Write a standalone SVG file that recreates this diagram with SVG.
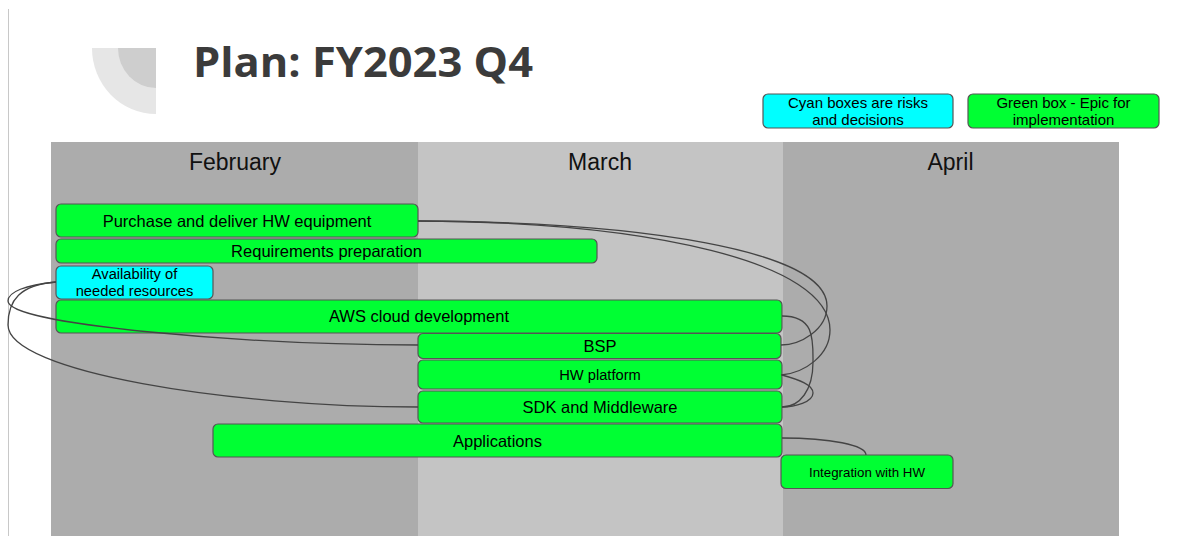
<svg xmlns="http://www.w3.org/2000/svg" width="1204" height="536" viewBox="0 0 1204 536">
  <style>
    .month { font-family: "Liberation Sans", Arial, sans-serif; font-size: 23px; fill: #111; text-anchor: middle; }
    .bar { stroke: #555; stroke-width: 1.2; }
    .epic { fill: #00ff33; }
    .risk { fill: #00ffff; }
    .lbl { font-family: "Liberation Sans", Arial, sans-serif; font-size: 16.5px; fill: #000; text-anchor: middle; }
    .sm { font-size: 14.7px; }
    .xs { font-size: 13.3px; }
    .leg { font-size: 15px; }
    .edge { fill: none; stroke: #444; stroke-width: 1.3; }
  </style>

  <rect width="1204" height="536" fill="#ffffff"/>
  <line x1="8.5" y1="9" x2="8.5" y2="536" stroke="#c8c8c8" stroke-width="1"/>

  <!-- header -->
  <g id="logo">
    <path d="M156,48 L92,48 A64,66 0 0 0 156,114 Z" fill="#e6e6e6"/>
    <path d="M156,48 L118,48 A38,40 0 0 0 156,88 Z" fill="#cecece"/>
  </g>
  <text id="title" x="193" y="77" font-family="'Open Sans', 'DejaVu Sans', sans-serif" font-weight="bold" font-size="41" fill="#3b3b3b" textLength="340" lengthAdjust="spacingAndGlyphs">Plan: FY2023 Q4</text>

  <!-- legend -->
  <g id="legend-risk">
    <rect class="bar risk" x="763" y="94" width="190" height="34" rx="5"/>
    <text class="lbl leg" x="858" y="108.3">Cyan boxes are risks</text>
    <text class="lbl leg" x="858" y="125">and decisions</text>
  </g>
  <g id="legend-epic">
    <rect class="bar epic" x="968" y="94" width="191" height="34" rx="5"/>
    <text class="lbl leg" x="1063.5" y="108.3">Green box - Epic for</text>
    <text class="lbl leg" x="1063.5" y="125">implementation</text>
  </g>

  <!-- month columns -->
  <g id="months">
    <rect x="51" y="142" width="367" height="394" fill="#acacac"/>
    <rect x="418" y="142" width="365" height="394" fill="#c4c4c4"/>
    <rect x="783" y="142" width="336" height="394" fill="#acacac"/>
    <text class="month" x="235" y="170">February</text>
    <text class="month" x="600" y="170">March</text>
    <text class="month" x="950.5" y="170">April</text>
  </g>

  <!-- epics and risks -->
  <g id="purchase-hw">
    <rect class="bar epic" x="56" y="204" width="362" height="33" rx="5"/>
    <text class="lbl" x="237" y="226.6">Purchase and deliver HW equipment</text>
  </g>
  <g id="requirements">
    <rect class="bar epic" x="56" y="239" width="541" height="24" rx="5"/>
    <text class="lbl" x="326.5" y="256.8">Requirements preparation</text>
  </g>
  <g id="availability">
    <rect class="bar risk" x="56" y="266" width="157" height="33" rx="5"/>
    <text class="lbl sm" x="134.5" y="279.3">Availability of</text>
    <text class="lbl sm" x="134.5" y="296">needed resources</text>
  </g>
  <g id="aws-cloud">
    <rect class="bar epic" x="56" y="300" width="726" height="33" rx="5"/>
    <text class="lbl" x="419" y="322">AWS cloud development</text>
  </g>
  <g id="bsp">
    <rect class="bar epic" x="418" y="333.5" width="363" height="25" rx="5"/>
    <text class="lbl" x="600" y="351.8">BSP</text>
  </g>
  <g id="hw-platform">
    <rect class="bar epic" x="418" y="360" width="364" height="29" rx="5"/>
    <text class="lbl sm" x="600" y="379.8">HW platform</text>
  </g>
  <g id="sdk">
    <rect class="bar epic" x="418" y="391" width="364" height="32" rx="5"/>
    <text class="lbl" x="600" y="412.7">SDK and Middleware</text>
  </g>
  <g id="applications">
    <rect class="bar epic" x="213" y="424" width="569" height="33" rx="5"/>
    <text class="lbl" x="497.5" y="446.7">Applications</text>
  </g>
  <g id="integration">
    <rect class="bar epic" x="781" y="455" width="172" height="33.5" rx="5"/>
    <text class="lbl xs" x="867" y="476.5">Integration with HW</text>
  </g>

  <!-- dependencies -->
  <g id="connectors">
    <path class="edge" d="M418,221 C640,222 827,250 827,306 C827,330 800,345 781,345"/>
    <path class="edge" d="M418,221 C650,222 830,262 830,330 C830,355 805,373 781,375"/>
    <path class="edge" d="M782,316 C815,316 813,340 813,362 C813,390 800,407 782,407"/>
    <path class="edge" d="M782,375 C800,380 813,385 813,393 C813,402 795,407 782,407"/>
    <path class="edge" d="M56,282 C25,285 8,292 8,301 C8,325 250,345 418,345"/>
    <path class="edge" d="M56,282 C20,285 8,300 8,325 C8,372 230,407 418,407"/>
    <path class="edge" d="M782,438 C830,438 866,445 866,455"/>
  </g>
</svg>
